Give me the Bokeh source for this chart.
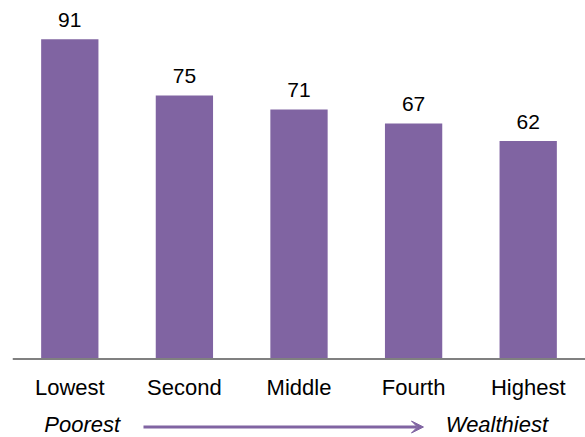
from bokeh.plotting import figure
from bokeh.models import ColumnDataSource, FactorRange, Range1d, Span, Arrow, VeeHead
from bokeh.core.properties import value
from bokeh.embed import file_html
from bokeh.resources import INLINE

categories = ["Lowest", "Second", "Middle", "Fourth", "Highest"]
values = [91, 75, 71, 67, 62]
value_labels = [str(v) for v in values]
note_texts = ["Poorest", "Wealthiest"]

BAR = "#8064A2"
FONT = value("Liberation Sans")
PX = 3.515          # pixels per data unit (layout constant)
BASE = 358.5        # pixel row of the baseline
H = 437

src = ColumnDataSource(dict(cat=categories, val=values, lab=value_labels))

p = figure(
    width=585, height=H,
    x_range=FactorRange(factors=categories, range_padding=0),
    y_range=Range1d(-(H - BASE) / PX, BASE / PX),
    output_backend="svg", toolbar_location=None,
    min_border_left=12, min_border_right=0, min_border_top=0, min_border_bottom=0,
)
p.outline_line_color = None
p.xgrid.visible = False
p.ygrid.visible = False
p.xaxis.visible = False
p.yaxis.visible = False

p.vbar(x="cat", top="val", width=0.5, source=src, fill_color=BAR, line_color=None)
p.add_layout(Span(location=0, dimension="width", line_color="#808080", line_width=2))

# value labels above bars
p.text(x="cat", y="val", text="lab", source=src, text_align="center",
       text_baseline="alphabetic", y_offset=-19, text_font_size="21px",
       text_font=FONT, text_color="black")

# category labels under the baseline
p.text(x="cat", y=0, text="cat", source=src, text_align="center",
       text_baseline="alphabetic", y_offset=28.5, text_font_size="22px",
       text_font=FONT, text_color="black")

# Poorest -> Wealthiest note row
note_src = ColumnDataSource(dict(x=[0.608, 4.227], y=[0, 0], t=note_texts))
p.text(x="x", y="y", text="t", source=note_src, text_align="center",
       text_baseline="alphabetic", y_offset=65.5, text_font_size="22px",
       text_font=FONT, text_font_style="italic", text_color="black")
arrow_y = -(426.5 - BASE) / PX
p.add_layout(Arrow(x_start=1.143, y_start=arrow_y, x_end=3.586, y_end=arrow_y,
                   line_color=BAR, line_width=3,
                   end=VeeHead(size=12, fill_color=BAR, line_color=BAR, line_width=1)))

open("out.html", "w").write(file_html(p, INLINE))
